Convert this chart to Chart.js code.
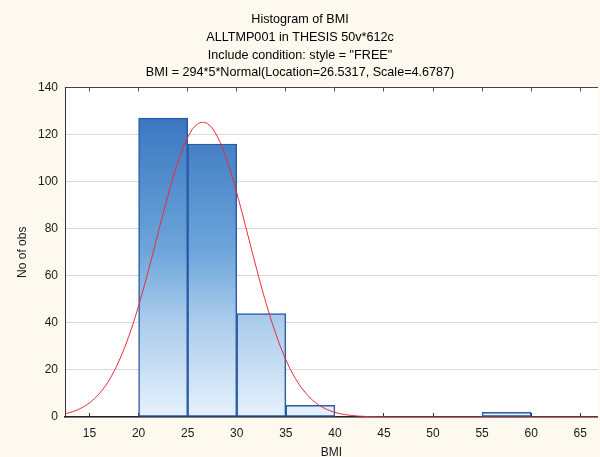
<!DOCTYPE html>
<html>
<head>
<meta charset="utf-8">
<script src="https://cdn.jsdelivr.net/npm/chart.js@4.4.1/dist/chart.umd.min.js"></script>
<style>
  html, body { margin: 0; padding: 0; background: #fdf9ef; }
  #wrap { width: 600px; height: 457px; }
</style>
</head>
<body>
<div id="wrap"><canvas id="histChart" width="600" height="457"></canvas></div>
<script>
// histogram bins (lower edge, width 5) and counts
var binStart = [20, 25, 30, 35, 55];
var binCount = [127, 116, 44, 5, 2];
var binWidth = 5;

// fitted normal curve, read at whole BMI values
var curveX = [12, 13, 14, 15, 16, 17, 18, 19, 20, 21, 22, 23, 24, 25, 26, 27, 28, 29, 30,
              31, 32, 33, 34, 35, 36, 37, 38, 39, 40, 41, 42, 43, 44, 45, 46, 47, 50, 55, 60, 65, 68];
var curveY = [1.0, 1.9, 3.5, 6.0, 10.0, 15.7, 23.8, 34.3, 47.3, 62.3, 78.4, 94.3, 108.3, 118.8, 124.5, 124.7, 119.3, 109.1, 95.2,
              79.4, 63.3, 48.2, 35.1, 24.4, 16.2, 10.3, 6.2, 3.6, 2.0, 1.05, 0.53, 0.26, 0.12, 0.05, 0.02, 0.01, 0, 0, 0, 0, 0];

var titleLines = [
    "Histogram of BMI",
    "ALLTMP001 in THESIS 50v*612c",
    "Include condition: style = \"FREE\"",
    "BMI = 294*5*Normal(Location=26.5317, Scale=4.6787)"
];

var barData = binStart.map(function (s, i) { return { x: s + binWidth / 2, y: binCount[i] }; });
var curveData = curveX.map(function (x, i) { return { x: x, y: curveY[i] }; });

var plotBg = {
    id: "plotBg",
    beforeDraw: function (chart) {
        var a = chart.chartArea, ctx = chart.ctx;
        ctx.save();
        ctx.fillStyle = "#ffffff";
        ctx.fillRect(a.left, a.top, a.right - a.left, a.bottom - a.top);
        ctx.restore();
    }
};

function barGradient(context) {
    var chart = context.chart, a = chart.chartArea;
    if (!a) return "#6fa0d8";
    var g = chart.ctx.createLinearGradient(0, a.top, 0, a.bottom);
    g.addColorStop(0, "#3370b8");
    g.addColorStop(0.1, "#3b78c0");
    g.addColorStop(0.5, "#6ea6db");
    g.addColorStop(0.7, "#a8cbeb");
    g.addColorStop(1, "#e6f2fc");
    return g;
}

Chart.defaults.font.family = "'Liberation Sans', Arial, sans-serif";
Chart.defaults.font.size = 12;
Chart.defaults.color = "#1a1a1a";

new Chart(document.getElementById("histChart"), {
    type: "bar",
    data: {
        datasets: [{
            type: "line",
            data: curveData,
            borderColor: "#ea2b36",
            borderWidth: 1,
            pointRadius: 0,
            tension: 0.4,
            fill: false,
            order: 0
        }, {
            type: "bar",
            data: barData,
            backgroundColor: barGradient,
            borderColor: "#2a5aa8",
            borderWidth: 1.5,
            borderSkipped: false,
            barPercentage: 1,
            categoryPercentage: 1,
            order: 1
        }]
    },
    options: {
        responsive: false,
        animation: false,
        layout: { padding: 0 },
        plugins: {
            legend: { display: false },
            tooltip: { enabled: false },
            title: {
                display: true,
                text: titleLines,
                color: "#000",
                font: { size: 12.6, weight: "normal", lineHeight: 1.4 },
                padding: { top: 11, bottom: 6 }
            }
        },
        scales: {
            x: {
                type: "linear",
                position: "bottom",
                offset: false,
                min: 12.5,
                max: 66.8,
                afterFit: function (s) { s.height = 40; },
                ticks: { stepSize: 5, includeBounds: false, padding: 13, color: "#1a1a1a" },
                grid: { drawOnChartArea: false, tickLength: -4, color: "#333", offset: false },
                border: { color: "#222", width: 1.5 },
                title: { display: true, text: "BMI", color: "#1a1a1a", font: { lineHeight: 0.8 }, padding: { top: 0, bottom: 0 } }
            },
            x2: {
                type: "linear",
                position: "top",
                offset: false,
                min: 12.5,
                max: 66.8,
                afterFit: function (s) { s.height = 0; },
                ticks: { display: false, stepSize: 5, includeBounds: false },
                grid: { drawOnChartArea: false, tickLength: -4, color: "#555", offset: false },
                border: { color: "#444", width: 1 }
            },
            y: {
                min: 0,
                max: 140,
                afterFit: function (s) { s.width = 65; },
                ticks: { stepSize: 20, padding: 7, color: "#1a1a1a" },
                grid: { color: "#dadada", drawTicks: false },
                border: { color: "#333", width: 1 },
                title: { display: true, text: "No of obs", color: "#1a1a1a", padding: { top: 15, bottom: 0 } }
            }
        }
    },
    plugins: [plotBg]
});
</script>
</body>
</html>
